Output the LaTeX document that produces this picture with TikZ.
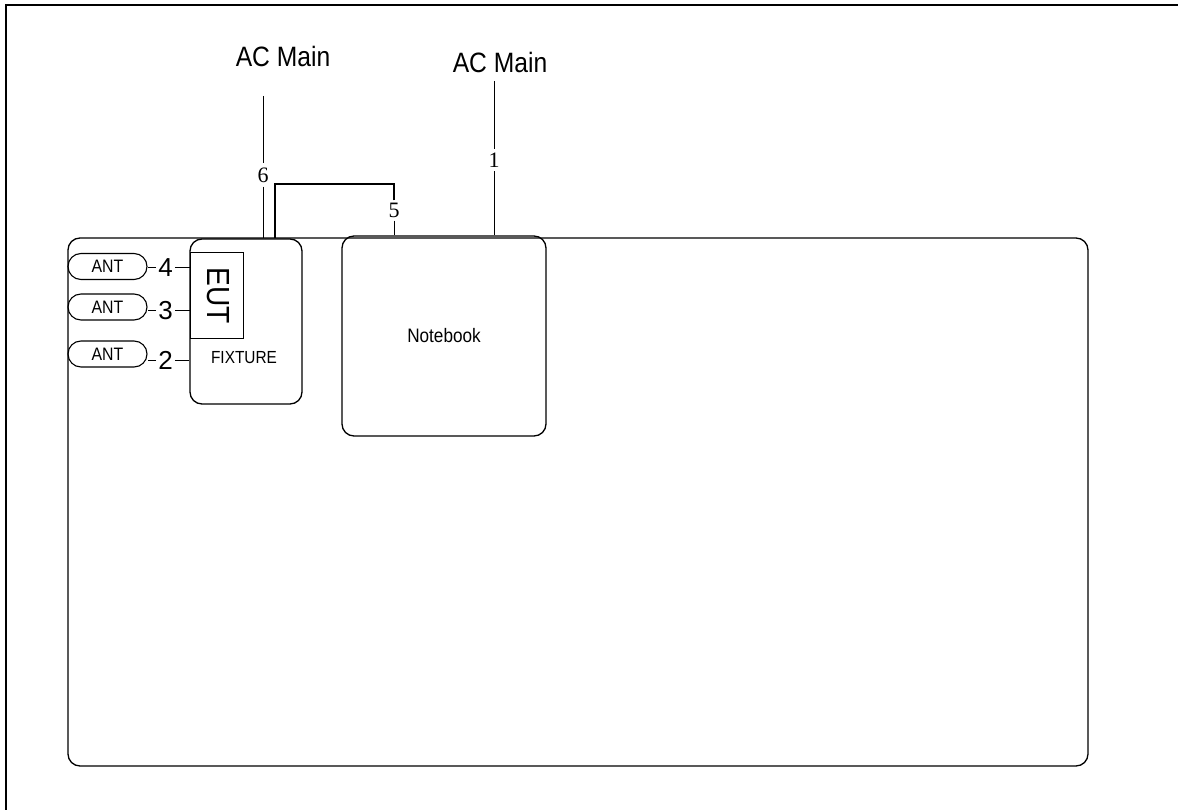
\documentclass[tikz,border=0pt]{standalone}
\usepackage{fontspec}
\setmainfont{Liberation Sans}
\newfontfamily\sansc[FakeStretch=0.88]{Liberation Sans}
\newfontfamily\serifd{Liberation Serif}
\begin{document}
\begin{tikzpicture}[x=1pt,y=-1pt,
  box/.style={draw,line width=1.3pt,rounded corners=12pt,inner sep=0pt},
  pill/.style={draw,line width=1.1pt,rounded corners=13pt,inner sep=0pt,minimum width=79pt,minimum height=26pt,font=\sansc\fontsize{18}{18}\selectfont},
  thin/.style={line width=0.8pt},
  num/.style={inner sep=2pt,font=\fontsize{26}{26}\selectfont},
  snum/.style={inner sep=4pt,font=\serifd\fontsize{22}{22}\selectfont},
  acm/.style={inner sep=0pt,font=\sansc\fontsize{28}{28}\selectfont}]
\useasboundingbox (0,0) rectangle (1178,810);
% outer frame
\draw[line width=2pt] (1178,5) -- (6,5) -- (6,810);
% big area
\node[box,minimum width=1020pt,minimum height=528pt] (area) at (578,502) {};
% fixture
\node[box,minimum width=112pt,minimum height=165pt] (fix) at (246,321.5) {};
\node[draw,line width=1pt,inner sep=0pt,minimum width=53pt,minimum height=85pt] (eut) at (216.5,295.5) {};
\node[rotate=-90,inner sep=0pt,font=\sansc\fontsize{32}{32}\selectfont] (eutt) at (218,296) {EUT};
\node[inner sep=0pt,font=\sansc\fontsize{17.5}{17.5}\selectfont] (fixt) at (244,358) {FIXTURE};
% notebook
\node[box,minimum width=204pt,minimum height=200pt,font=\sansc\fontsize{19.5}{19.5}\selectfont] (nb) at (444,336) {Notebook};
% antennas
\node[pill] (p4) at (107.5,266.5) {ANT};
\node[pill] (p3) at (107.5,307) {ANT};
\node[pill] (p2) at (107.5,354) {ANT};
\node[num] (l4) at (165.5,267.5) {4};
\node[num] (l3) at (165.5,310.5) {3};
\node[num] (l2) at (165.5,360.5) {2};
\draw[thin] (l4.west) -- (l4.west -| p4.east);
\draw[thin] (l4.east) -- (l4.east -| eut.west);
\draw[thin] (l3.west) -- (l3.west -| p3.east);
\draw[thin] (l3.east) -- (l3.east -| eut.west);
\draw[thin] (l2.west) -- (l2.west -| p2.east);
\draw[thin] (l2.east) -- (l2.east -| fix.west);
% AC mains
\node[acm] (ac1) at (283,56) {AC Main};
\node[acm] (ac2) at (500,62) {AC Main};
\coordinate (t6) at (263,96);
\coordinate (t1) at (494,81);
\node[snum] (l6) at (263,175) {6};
\node[snum] (l1) at (494,160) {1};
\node[snum,inner sep=2.5pt] (l5) at (394,210.5) {5};
\coordinate (k5) at (275,184);
\draw[thin] (t6) -- (l6.north);
\draw[thin] (l6.south) -- (l6.south |- fix.north);
\draw[thin] (t1) -- (l1.north);
\draw[thin] (l1.south) -- (l1.south |- nb.north);
\draw[line width=1.1pt] (l5.north) |- (k5) -- (k5 |- fix.north);
\draw[thin] (l5.south) -- (l5.south |- nb.north);
\end{tikzpicture}
\end{document}
